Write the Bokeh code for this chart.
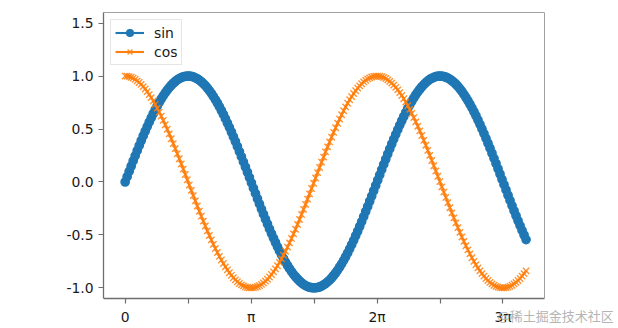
from bokeh.plotting import figure
from bokeh.models import (Range1d, FixedTicker, Legend, LegendItem, Label,
                          ColumnDataSource, LinearAxis)
from bokeh.embed import file_html
from bokeh.resources import INLINE

# ---------------- data ----------------
x_vals = [
    0.00, 0.05, 0.10, 0.15, 0.20, 0.25, 0.30, 0.35, 0.40, 0.45,
    0.50, 0.55, 0.60, 0.65, 0.70, 0.75, 0.80, 0.85, 0.90, 0.95,
    1.00, 1.05, 1.10, 1.15, 1.20, 1.25, 1.30, 1.35, 1.40, 1.45,
    1.50, 1.55, 1.60, 1.65, 1.70, 1.75, 1.80, 1.85, 1.90, 1.95,
    2.00, 2.05, 2.10, 2.15, 2.20, 2.25, 2.30, 2.35, 2.40, 2.45,
    2.50, 2.55, 2.60, 2.65, 2.70, 2.75, 2.80, 2.85, 2.90, 2.95,
    3.00, 3.05, 3.10, 3.15, 3.20, 3.25, 3.30, 3.35, 3.40, 3.45,
    3.50, 3.55, 3.60, 3.65, 3.70, 3.75, 3.80, 3.85, 3.90, 3.95,
    4.00, 4.05, 4.10, 4.15, 4.20, 4.25, 4.30, 4.35, 4.40, 4.45,
    4.50, 4.55, 4.60, 4.65, 4.70, 4.75, 4.80, 4.85, 4.90, 4.95,
    5.00, 5.05, 5.10, 5.15, 5.20, 5.25, 5.30, 5.35, 5.40, 5.45,
    5.50, 5.55, 5.60, 5.65, 5.70, 5.75, 5.80, 5.85, 5.90, 5.95,
    6.00, 6.05, 6.10, 6.15, 6.20, 6.25, 6.30, 6.35, 6.40, 6.45,
    6.50, 6.55, 6.60, 6.65, 6.70, 6.75, 6.80, 6.85, 6.90, 6.95,
    7.00, 7.05, 7.10, 7.15, 7.20, 7.25, 7.30, 7.35, 7.40, 7.45,
    7.50, 7.55, 7.60, 7.65, 7.70, 7.75, 7.80, 7.85, 7.90, 7.95,
    8.00, 8.05, 8.10, 8.15, 8.20, 8.25, 8.30, 8.35, 8.40, 8.45,
    8.50, 8.55, 8.60, 8.65, 8.70, 8.75, 8.80, 8.85, 8.90, 8.95,
    9.00, 9.05, 9.10, 9.15, 9.20, 9.25, 9.30, 9.35, 9.40, 9.45,
    9.50, 9.55, 9.60, 9.65, 9.70, 9.75, 9.80, 9.85, 9.90, 9.95,
    10.00,
]

sin_vals = [
    0.000, 0.050, 0.100, 0.149, 0.199, 0.247, 0.296, 0.343, 0.389, 0.435,
    0.479, 0.523, 0.565, 0.605, 0.644, 0.682, 0.717, 0.751, 0.783, 0.813,
    0.841, 0.867, 0.891, 0.913, 0.932, 0.949, 0.964, 0.976, 0.985, 0.993,
    0.997, 1.000, 1.000, 0.997, 0.992, 0.984, 0.974, 0.961, 0.946, 0.929,
    0.909, 0.887, 0.863, 0.837, 0.808, 0.778, 0.746, 0.711, 0.675, 0.638,
    0.598, 0.557, 0.516, 0.472, 0.427, 0.382, 0.335, 0.287, 0.239, 0.190,
    0.141, 0.092, 0.042, -0.008, -0.058, -0.108, -0.158, -0.207, -0.256, -0.304,
    -0.351, -0.397, -0.443, -0.487, -0.530, -0.571, -0.612, -0.651, -0.688, -0.723,
    -0.757, -0.788, -0.818, -0.846, -0.872, -0.895, -0.916, -0.935, -0.952, -0.966,
    -0.978, -0.987, -0.994, -0.998, -1.000, -0.999, -0.996, -0.991, -0.982, -0.972,
    -0.959, -0.943, -0.926, -0.906, -0.883, -0.859, -0.832, -0.803, -0.773, -0.740,
    -0.706, -0.669, -0.631, -0.592, -0.551, -0.508, -0.465, -0.420, -0.374, -0.327,
    -0.279, -0.231, -0.182, -0.133, -0.083, -0.033, 0.017, 0.067, 0.117, 0.166,
    0.215, 0.264, 0.312, 0.359, 0.405, 0.450, 0.494, 0.537, 0.578, 0.618,
    0.657, 0.694, 0.729, 0.762, 0.794, 0.823, 0.850, 0.875, 0.899, 0.919,
    0.938, 0.954, 0.968, 0.979, 0.988, 0.994, 0.999, 1.000, 0.999, 0.995,
    0.989, 0.981, 0.970, 0.956, 0.941, 0.923, 0.902, 0.879, 0.855, 0.827,
    0.798, 0.767, 0.734, 0.700, 0.663, 0.625, 0.585, 0.544, 0.501, 0.457,
    0.412, 0.366, 0.319, 0.271, 0.223, 0.174, 0.125, 0.075, 0.025, -0.025,
    -0.075, -0.125, -0.174, -0.223, -0.272, -0.319, -0.366, -0.412, -0.457, -0.501,
    -0.544,
]

cos_vals = [
    1.000, 0.999, 0.995, 0.989, 0.980, 0.969, 0.955, 0.939, 0.921, 0.900,
    0.878, 0.853, 0.825, 0.796, 0.765, 0.732, 0.697, 0.660, 0.622, 0.582,
    0.540, 0.498, 0.454, 0.408, 0.362, 0.315, 0.267, 0.219, 0.170, 0.121,
    0.071, 0.021, -0.029, -0.079, -0.129, -0.178, -0.227, -0.276, -0.323, -0.370,
    -0.416, -0.461, -0.505, -0.547, -0.589, -0.628, -0.666, -0.703, -0.737, -0.770,
    -0.801, -0.830, -0.857, -0.881, -0.904, -0.924, -0.942, -0.958, -0.971, -0.981,
    -0.990, -0.996, -0.999, -1.000, -0.998, -0.994, -0.987, -0.978, -0.967, -0.953,
    -0.936, -0.918, -0.897, -0.873, -0.848, -0.820, -0.791, -0.759, -0.726, -0.691,
    -0.654, -0.615, -0.575, -0.533, -0.490, -0.446, -0.401, -0.354, -0.307, -0.259,
    -0.211, -0.162, -0.112, -0.062, -0.012, 0.038, 0.088, 0.137, 0.187, 0.235,
    0.284, 0.331, 0.378, 0.424, 0.469, 0.512, 0.554, 0.595, 0.635, 0.672,
    0.709, 0.743, 0.776, 0.806, 0.835, 0.861, 0.886, 0.907, 0.927, 0.945,
    0.960, 0.973, 0.983, 0.991, 0.997, 0.999, 1.000, 0.998, 0.993, 0.986,
    0.977, 0.964, 0.950, 0.933, 0.914, 0.893, 0.869, 0.843, 0.816, 0.786,
    0.754, 0.720, 0.685, 0.647, 0.608, 0.568, 0.526, 0.483, 0.439, 0.393,
    0.347, 0.299, 0.251, 0.203, 0.153, 0.104, 0.054, 0.004, -0.046, -0.096,
    -0.146, -0.195, -0.243, -0.292, -0.339, -0.386, -0.431, -0.476, -0.519, -0.561,
    -0.602, -0.641, -0.679, -0.715, -0.749, -0.781, -0.811, -0.839, -0.865, -0.889,
    -0.911, -0.930, -0.948, -0.962, -0.975, -0.985, -0.992, -0.997, -1.000, -1.000,
    -0.997, -0.992, -0.985, -0.975, -0.962, -0.948, -0.930, -0.911, -0.889, -0.865,
    -0.839,
]

series_names = ["sin", "cos"]

x_tick_values = [0, 1.5708, 3.1416, 4.7124, 6.2832, 7.854, 9.4248]
x_tick_labels = ["0", "", "π", "", "2π", "", "3π"]
y_tick_values = [-1.0, -0.5, 0.0, 0.5, 1.0, 1.5]
y_tick_labels = ["-1.0", "-0.5", "0.0", "0.5", "1.0", "1.5"]

watermark_text = "@稀土掘金技术社区"

# ---------------- layout constants ----------------
W, H = 618, 328
BOX_L, BOX_T, BOX_R, BOX_B = 103, 12, 544, 298     # axes box in pixels
X_LO, X_HI = -0.54, 10.46                           # axes box in data units
Y_LO, Y_HI = -1.1, 1.6
# the drawing frame is extended to the right and bottom canvas edges so the
# watermark beside the tick labels is not clipped; the axes box is kept by
# axis bounds / fixed locations.
px_x = (X_HI - X_LO) / (BOX_R - BOX_L)
px_y = (Y_HI - Y_LO) / (BOX_B - BOX_T)
FRAME_X_HI = X_LO + (W - BOX_L) * px_x
FRAME_Y_LO = Y_HI - (H - BOX_T) * px_y

FONT = "DejaVu Sans"
FSIZE = "13.9px"
AXIS_COLOR = "#6e6e6e"
SPINE_LIGHT = "#a0a0a0"

source = ColumnDataSource(data=dict(x=x_vals, s=sin_vals, c=cos_vals))

p = figure(width=W, height=H, output_backend="svg", toolbar_location=None,
           x_range=Range1d(X_LO, FRAME_X_HI), y_range=Range1d(FRAME_Y_LO, Y_HI),
           min_border_left=BOX_L, min_border_right=0,
           min_border_top=BOX_T, min_border_bottom=0)
p.background_fill_color = "white"
p.border_fill_color = "white"
p.grid.visible = False
p.outline_line_color = None

for ax in (p.xaxis[0], p.yaxis[0]):
    ax.axis_line_color = AXIS_COLOR
    ax.axis_line_width = 1.3
    ax.major_tick_line_color = AXIS_COLOR
    ax.major_tick_line_width = 1.2
    ax.major_tick_in = 0
    ax.major_tick_out = 5
    ax.minor_tick_line_color = None
    ax.major_label_text_font = FONT
    ax.major_label_text_font_size = FSIZE
    ax.major_label_text_color = "#1a1a1a"
    ax.major_label_standoff = 5

xax = p.xaxis[0]
xax.fixed_location = Y_LO
xax.bounds = (X_LO, X_HI)
xax.ticker = FixedTicker(ticks=x_tick_values)
xax.major_label_overrides = dict(zip(x_tick_values, x_tick_labels))

yax = p.yaxis[0]
yax.bounds = (Y_LO, Y_HI)
yax.ticker = FixedTicker(ticks=y_tick_values)
yax.major_label_overrides = dict(zip(y_tick_values, y_tick_labels))

# top and right spines (no ticks, no labels)
top_ax = LinearAxis(bounds=(X_LO, X_HI), ticker=FixedTicker(ticks=[]),
                    axis_line_color=SPINE_LIGHT, axis_line_width=1,
                    major_tick_line_color=None, minor_tick_line_color=None,
                    major_label_text_alpha=0)
p.add_layout(top_ax, "above")
right_ax = LinearAxis(bounds=(Y_LO, Y_HI), fixed_location=X_HI,
                      ticker=FixedTicker(ticks=[]),
                      axis_line_color=SPINE_LIGHT, axis_line_width=1,
                      major_tick_line_color=None, minor_tick_line_color=None,
                      major_label_text_alpha=0)
p.add_layout(right_ax, "right")

BLUE = "#1f77b4"
ORANGE = "#ff7f0e"

sin_line = p.line("x", "s", source=source, line_color=BLUE, line_width=2.1)
sin_pts = p.scatter("x", "s", source=source, marker="circle", size=8.4,
                    fill_color=BLUE, line_color=BLUE, line_width=1.3)
cos_line = p.line("x", "c", source=source, line_color=ORANGE, line_width=2.1)
cos_pts = p.scatter("x", "c", source=source, marker="x", size=9,
                    line_color=ORANGE, line_width=1.4, line_alpha=0.85)

legend = Legend(items=[
    LegendItem(label=series_names[0], renderers=[sin_line, sin_pts]),
    LegendItem(label=series_names[1], renderers=[cos_line, cos_pts]),
])
legend.location = "top_left"
legend.margin = 7
legend.padding = 4
legend.spacing = 2
legend.glyph_width = 29
legend.glyph_height = 17
legend.label_height = 17
legend.label_standoff = 10
legend.label_text_font = FONT
legend.label_text_font_size = FSIZE
legend.label_text_color = "#1a1a1a"
legend.border_line_color = "#cccccc"
legend.border_line_width = 1
legend.background_fill_color = "white"
legend.background_fill_alpha = 0.8
p.add_layout(legend)

wm = Label(x=497 - BOX_L, y=H - 315, x_units="screen", y_units="screen",
           text=watermark_text, text_font="Noto Sans CJK SC",
           text_font_size="13px", text_color="#b5b5b5",
           text_baseline="middle", text_align="left")
p.add_layout(wm)

open("out.html", "w").write(file_html(p, INLINE))
